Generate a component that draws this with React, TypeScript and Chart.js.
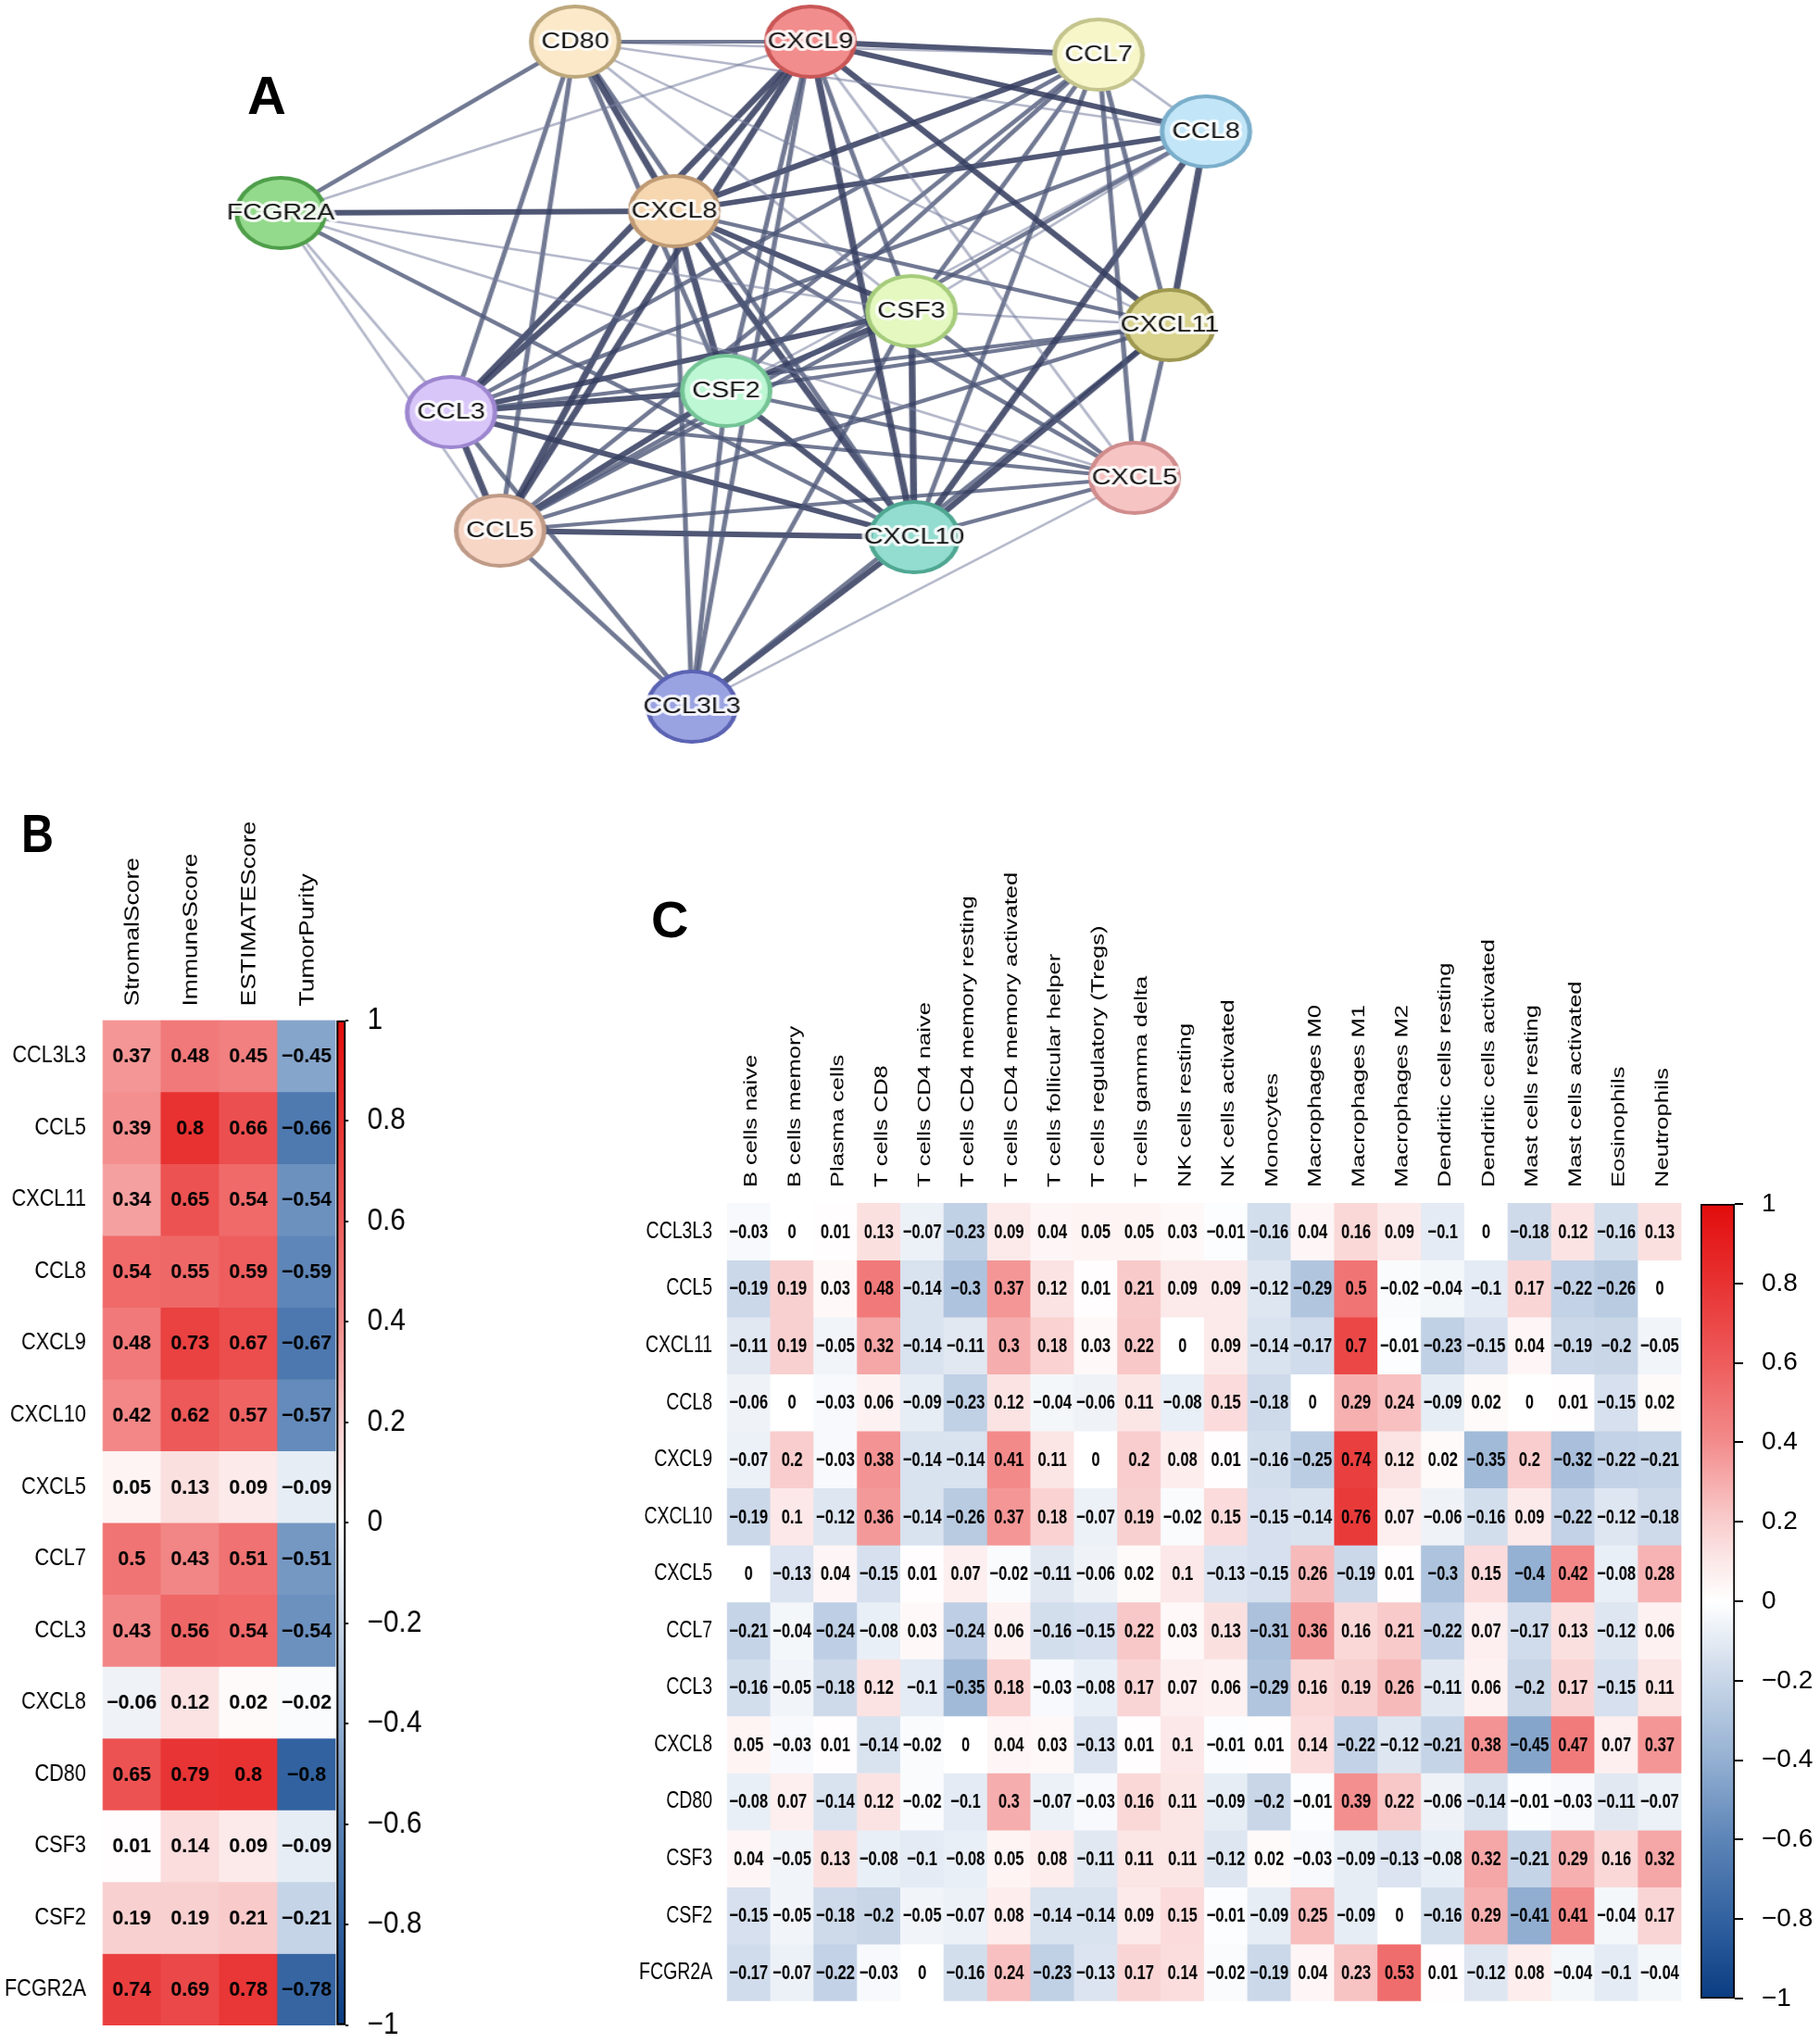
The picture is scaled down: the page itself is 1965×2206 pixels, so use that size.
import React, { useEffect, useRef } from 'react';
import { Chart, registerables } from 'chart.js';

Chart.register(...registerables);

const FONT = '"Liberation Sans", Arial, Helvetica, sans-serif';

/* ---------------- Panel A : interaction network ---------------- */
const networkGenes = ['CD80', 'CXCL9', 'CCL7', 'CCL8', 'FCGR2A', 'CXCL8', 'CSF3', 'CXCL11', 'CSF2', 'CCL3', 'CXCL5', 'CCL5', 'CXCL10', 'CCL3L3'];
const networkLayoutX = [621, 875, 1186, 1302, 303, 728, 984, 1263, 784, 487, 1225, 540, 987, 747];
const networkLayoutY = [45, 45, 59, 142, 230, 228, 336, 351, 422, 445, 516, 573, 580, 763];
// [gene A, gene B, confidence level 1..3]
const networkEdges: [string, string, number][] = [
  ['FCGR2A', 'CD80', 2], ['FCGR2A', 'CXCL9', 1], ['FCGR2A', 'CXCL8', 3], ['FCGR2A', 'CSF3', 1], ['FCGR2A', 'CXCL5', 1], ['FCGR2A', 'CXCL10', 2], ['FCGR2A', 'CCL3', 1], ['FCGR2A', 'CCL5', 1],
  ['CD80', 'CXCL9', 2], ['CD80', 'CXCL8', 3], ['CD80', 'CSF2', 2], ['CD80', 'CXCL10', 2], ['CD80', 'CCL3', 2], ['CD80', 'CCL5', 2], ['CD80', 'CCL8', 1], ['CD80', 'CXCL11', 1], ['CD80', 'CSF3', 1], ['CD80', 'CCL7', 1],
  ['CXCL9', 'CCL7', 3], ['CXCL9', 'CCL8', 3], ['CXCL9', 'CXCL11', 3], ['CXCL9', 'CXCL8', 3], ['CXCL9', 'CCL3', 3], ['CXCL9', 'CCL5', 3], ['CXCL9', 'CSF2', 2], ['CXCL9', 'CXCL10', 3], ['CXCL9', 'CSF3', 2], ['CXCL9', 'CCL3L3', 2], ['CXCL9', 'CXCL5', 1],
  ['CCL7', 'CCL8', 1], ['CCL7', 'CXCL8', 3], ['CCL7', 'CCL3', 2], ['CCL7', 'CSF3', 2], ['CCL7', 'CSF2', 2], ['CCL7', 'CXCL10', 2], ['CCL7', 'CXCL11', 2], ['CCL7', 'CXCL5', 2], ['CCL7', 'CCL5', 2],
  ['CCL8', 'CXCL8', 3], ['CCL8', 'CXCL11', 3], ['CCL8', 'CSF3', 1], ['CCL8', 'CSF2', 1], ['CCL8', 'CXCL10', 3], ['CCL8', 'CCL5', 2], ['CCL8', 'CCL3', 2],
  ['CXCL8', 'CSF3', 3], ['CXCL8', 'CXCL11', 2], ['CXCL8', 'CXCL5', 2], ['CXCL8', 'CSF2', 3], ['CXCL8', 'CCL3', 3], ['CXCL8', 'CCL5', 3], ['CXCL8', 'CXCL10', 3], ['CXCL8', 'CCL3L3', 2],
  ['CSF3', 'CSF2', 3], ['CSF3', 'CCL3', 3], ['CSF3', 'CCL5', 2], ['CSF3', 'CXCL10', 3], ['CSF3', 'CXCL11', 1], ['CSF3', 'CXCL5', 2], ['CSF3', 'CCL3L3', 2],
  ['CXCL11', 'CCL3', 2], ['CXCL11', 'CSF2', 2], ['CXCL11', 'CCL5', 2], ['CXCL11', 'CXCL10', 3], ['CXCL11', 'CXCL5', 2], ['CXCL11', 'CCL3L3', 2],
  ['CSF2', 'CCL3', 3], ['CSF2', 'CCL5', 3], ['CSF2', 'CXCL10', 3], ['CSF2', 'CCL3L3', 2], ['CSF2', 'CXCL5', 2],
  ['CCL3', 'CCL5', 3], ['CCL3', 'CXCL10', 3], ['CCL3', 'CXCL5', 2], ['CCL3', 'CCL3L3', 2],
  ['CXCL5', 'CCL5', 2], ['CXCL5', 'CXCL10', 2], ['CXCL5', 'CCL3L3', 1],
  ['CCL5', 'CXCL10', 3], ['CCL5', 'CCL3L3', 2],
  ['CXCL10', 'CCL3L3', 3],
];

/* ---------------- Panel B : ESTIMATE correlation ---------------- */
const estimateGenes = ['CCL3L3', 'CCL5', 'CXCL11', 'CCL8', 'CXCL9', 'CXCL10', 'CXCL5', 'CCL7', 'CCL3', 'CXCL8', 'CD80', 'CSF3', 'CSF2', 'FCGR2A'];
const estimateScores = ['StromalScore', 'ImmuneScore', 'ESTIMATEScore', 'TumorPurity'];
const estimateCorr = [
  [0.37, 0.48, 0.45, -0.45],
  [0.39, 0.8, 0.66, -0.66],
  [0.34, 0.65, 0.54, -0.54],
  [0.54, 0.55, 0.59, -0.59],
  [0.48, 0.73, 0.67, -0.67],
  [0.42, 0.62, 0.57, -0.57],
  [0.05, 0.13, 0.09, -0.09],
  [0.5, 0.43, 0.51, -0.51],
  [0.43, 0.56, 0.54, -0.54],
  [-0.06, 0.12, 0.02, -0.02],
  [0.65, 0.79, 0.8, -0.8],
  [0.01, 0.14, 0.09, -0.09],
  [0.19, 0.19, 0.21, -0.21],
  [0.74, 0.69, 0.78, -0.78],
];

/* ---------------- Panel C : immune cell correlation ---------------- */
const immuneGenes = ['CCL3L3', 'CCL5', 'CXCL11', 'CCL8', 'CXCL9', 'CXCL10', 'CXCL5', 'CCL7', 'CCL3', 'CXCL8', 'CD80', 'CSF3', 'CSF2', 'FCGR2A'];
const immuneCells = [
  'B cells naive', 'B cells memory', 'Plasma cells', 'T cells CD8', 'T cells CD4 naive', 'T cells CD4 memory resting',
  'T cells CD4 memory activated', 'T cells follicular helper', 'T cells regulatory (Tregs)', 'T cells gamma delta',
  'NK cells resting', 'NK cells activated', 'Monocytes', 'Macrophages M0', 'Macrophages M1', 'Macrophages M2',
  'Dendritic cells resting', 'Dendritic cells activated', 'Mast cells resting', 'Mast cells activated', 'Eosinophils', 'Neutrophils',
];
const immuneCorr = [
  [-0.03, 0, 0.01, 0.13, -0.07, -0.23, 0.09, 0.04, 0.05, 0.05, 0.03, -0.01, -0.16, 0.04, 0.16, 0.09, -0.1, 0, -0.18, 0.12, -0.16, 0.13],
  [-0.19, 0.19, 0.03, 0.48, -0.14, -0.3, 0.37, 0.12, 0.01, 0.21, 0.09, 0.09, -0.12, -0.29, 0.5, -0.02, -0.04, -0.1, 0.17, -0.22, -0.26, 0],
  [-0.11, 0.19, -0.05, 0.32, -0.14, -0.11, 0.3, 0.18, 0.03, 0.22, 0, 0.09, -0.14, -0.17, 0.7, -0.01, -0.23, -0.15, 0.04, -0.19, -0.2, -0.05],
  [-0.06, 0, -0.03, 0.06, -0.09, -0.23, 0.12, -0.04, -0.06, 0.11, -0.08, 0.15, -0.18, 0, 0.29, 0.24, -0.09, 0.02, 0, 0.01, -0.15, 0.02],
  [-0.07, 0.2, -0.03, 0.38, -0.14, -0.14, 0.41, 0.11, 0, 0.2, 0.08, 0.01, -0.16, -0.25, 0.74, 0.12, 0.02, -0.35, 0.2, -0.32, -0.22, -0.21],
  [-0.19, 0.1, -0.12, 0.36, -0.14, -0.26, 0.37, 0.18, -0.07, 0.19, -0.02, 0.15, -0.15, -0.14, 0.76, 0.07, -0.06, -0.16, 0.09, -0.22, -0.12, -0.18],
  [0, -0.13, 0.04, -0.15, 0.01, 0.07, -0.02, -0.11, -0.06, 0.02, 0.1, -0.13, -0.15, 0.26, -0.19, 0.01, -0.3, 0.15, -0.4, 0.42, -0.08, 0.28],
  [-0.21, -0.04, -0.24, -0.08, 0.03, -0.24, 0.06, -0.16, -0.15, 0.22, 0.03, 0.13, -0.31, 0.36, 0.16, 0.21, -0.22, 0.07, -0.17, 0.13, -0.12, 0.06],
  [-0.16, -0.05, -0.18, 0.12, -0.1, -0.35, 0.18, -0.03, -0.08, 0.17, 0.07, 0.06, -0.29, 0.16, 0.19, 0.26, -0.11, 0.06, -0.2, 0.17, -0.15, 0.11],
  [0.05, -0.03, 0.01, -0.14, -0.02, 0, 0.04, 0.03, -0.13, 0.01, 0.1, -0.01, 0.01, 0.14, -0.22, -0.12, -0.21, 0.38, -0.45, 0.47, 0.07, 0.37],
  [-0.08, 0.07, -0.14, 0.12, -0.02, -0.1, 0.3, -0.07, -0.03, 0.16, 0.11, -0.09, -0.2, -0.01, 0.39, 0.22, -0.06, -0.14, -0.01, -0.03, -0.11, -0.07],
  [0.04, -0.05, 0.13, -0.08, -0.1, -0.08, 0.05, 0.08, -0.11, 0.11, 0.11, -0.12, 0.02, -0.03, -0.09, -0.13, -0.08, 0.32, -0.21, 0.29, 0.16, 0.32],
  [-0.15, -0.05, -0.18, -0.2, -0.05, -0.07, 0.08, -0.14, -0.14, 0.09, 0.15, -0.01, -0.09, 0.25, -0.09, 0, -0.16, 0.29, -0.41, 0.41, -0.04, 0.17],
  [-0.17, -0.07, -0.22, -0.03, 0, -0.16, 0.24, -0.23, -0.13, 0.17, 0.14, -0.02, -0.19, 0.04, 0.23, 0.53, 0.01, -0.12, 0.08, -0.04, -0.1, -0.04],
];

/* ---------------- styles ---------------- */
const nodeFill = ['#fbe9c9', '#f28d8d', '#f6f6c9', '#c2e6f8', '#94da8c', '#f6d7b0', '#e4f8c0', '#d9d38e', '#bdf7d4', '#d9c6f9', '#f7c4c4', '#f7d6c6', '#93ddd0', '#9aa3e2'];
const nodeStroke = ['#bda77c', '#c95656', '#c4c48d', '#7aaecb', '#4e9e4a', '#bf9a74', '#a6cc7c', '#9e9850', '#74c496', '#9d86cf', '#d08c8c', '#bf9a86', '#4fa792', '#5b63b3'];
const edgeStyle: Record<number, { w: number; c: string }> = {
  1: { w: 2.5, c: 'rgba(118,126,158,0.55)' },
  2: { w: 4.2, c: 'rgba(78,87,120,0.8)' },
  3: { w: 5.8, c: 'rgba(56,64,98,0.88)' },
};
const CORR_STOPS: [number, number[]][] = [
  [-1, [10, 60, 130]], [-0.8, [50, 98, 160]], [-0.6, [92, 132, 183]], [-0.4, [148, 176, 210]], [-0.2, [200, 214, 232]],
  [0, [255, 255, 255]], [0.1, [252, 232, 232]], [0.2, [249, 205, 205]], [0.4, [243, 140, 140]], [0.6, [238, 92, 92]], [0.8, [232, 50, 50]], [1, [226, 12, 12]],
];

function corrColor(v: number): string {
  for (let i = 0; i < CORR_STOPS.length - 1; i++) {
    const [a, ca] = CORR_STOPS[i];
    const [b, cb] = CORR_STOPS[i + 1];
    if (v >= a && v <= b) {
      const t = (v - a) / (b - a);
      const c = ca.map((x, k) => Math.round(x + (cb[k] - x) * t));
      return `rgb(${c[0]},${c[1]},${c[2]})`;
    }
  }
  return v < 0 ? 'rgb(10,60,130)' : 'rgb(226,12,12)';
}

function fmt(v: number): string {
  const r = Math.round(v * 100) / 100;
  return (r < 0 ? '\u2212' : '') + String(Math.abs(r));
}

const cellTextPlugin = {
  id: 'cellText',
  afterDatasetsDraw(chart: any, _args: any, opts: any) {
    const { ctx } = chart;
    const sx = opts.sx || 1;
    ctx.save();
    ctx.font = opts.font;
    ctx.fillStyle = '#000';
    ctx.textAlign = 'center';
    ctx.textBaseline = 'middle';
    chart.data.datasets.forEach((ds: any, i: number) => {
      const meta = chart.getDatasetMeta(i);
      meta.data.forEach((el: any, j: number) => {
        const p = el.getProps(['x', 'y', 'base'], true);
        ctx.save();
        ctx.translate(p.x, (p.y + p.base) / 2 + 1);
        ctx.scale(sx, 1);
        ctx.fillText(fmt(ds.corr[j]), 0, 0);
        ctx.restore();
      });
    });
    ctx.restore();
  },
};

const nodeLabelPlugin = {
  id: 'nodeLabels',
  afterDatasetsDraw(chart: any) {
    const { ctx } = chart;
    const meta = chart.getDatasetMeta(0);
    ctx.save();
    ctx.font = `23px ${FONT}`;
    ctx.textAlign = 'center';
    ctx.textBaseline = 'middle';
    ctx.lineJoin = 'round';
    meta.data.forEach((el: any, i: number) => {
      const p = el.getProps(['x', 'y'], true);
      ctx.lineWidth = 6;
      ctx.strokeStyle = 'rgba(255,255,255,0.85)';
      ctx.strokeText(networkGenes[i], p.x, p.y + 1);
      ctx.fillStyle = '#111';
      ctx.fillText(networkGenes[i], p.x, p.y + 1);
    });
    ctx.restore();
  },
};

type HeatOpts = {
  rows: string[]; cols: string[]; values: number[][];
  W: number; H: number; left: number; top: number; right: number; bottom: number;
  rowFont: number; colFont: number; cellFont: string; cellSx: number; rowPad: number; colPad: number; colOffset: number;
};

function heatmapConfig(o: HeatOpts): any {
  return {
    type: 'bar',
    data: {
      labels: o.cols,
      datasets: o.rows.map((r, i) => ({
        label: r,
        corr: o.values[i],
        data: o.cols.map(() => [i, i + 1]),
        backgroundColor: o.values[i].map(corrColor),
        borderWidth: 0,
        barPercentage: 1,
        categoryPercentage: 1,
        grouped: false,
      })),
    },
    options: {
      responsive: false,
      animation: false,
      devicePixelRatio: 1,
      events: [],
      layout: { autoPadding: false, padding: { left: 0, top: 0, right: o.W - o.right, bottom: o.H - o.bottom } },
      plugins: { legend: { display: false }, tooltip: { enabled: false }, cellText: { font: o.cellFont, sx: o.cellSx } },
      scales: {
        x: {
          type: 'category',
          position: 'top',
          offset: true,
          grid: { display: false, drawTicks: false },
          border: { display: false },
          ticks: {
            autoSkip: false, minRotation: 90, maxRotation: 90, padding: o.colPad, labelOffset: o.colOffset,
            color: '#000', font: { family: FONT, size: o.colFont },
          },
          afterFit: (s: any) => { s.height = o.top; s.paddingLeft = 0; s.paddingRight = 0; },
        },
        y: {
          type: 'linear',
          min: 0,
          max: o.rows.length,
          reverse: true,
          grid: { display: false, drawTicks: false },
          border: { display: false },
          afterBuildTicks: (s: any) => { s.ticks = o.rows.map((_, i) => ({ value: i + 0.5 })); },
          ticks: {
            autoSkip: false, padding: o.rowPad, color: '#000', font: { family: FONT, size: o.rowFont },
            callback: (_v: any, i: number) => o.rows[i],
          },
          afterFit: (s: any) => { s.width = o.left; s.paddingTop = 0; s.paddingBottom = 0; },
        },
      },
    },
    plugins: [cellTextPlugin],
  };
}

type BarOpts = { W: number; H: number; left: number; top: number; right: number; bottom: number; tickLen: number; tickPad: number; font: number; border: number; tickWidth: number };

function colorbarConfig(o: BarOpts): any {
  return {
    type: 'bar',
    data: {
      labels: [''],
      datasets: [{
        data: [[-1, 1]],
        backgroundColor: (c: any) => {
          const area = c.chart.chartArea;
          if (!area) return '#fff';
          const g = c.chart.ctx.createLinearGradient(0, area.bottom, 0, area.top);
          CORR_STOPS.forEach(([v]) => g.addColorStop((v + 1) / 2, corrColor(v)));
          return g;
        },
        borderColor: '#000',
        borderWidth: o.border,
        borderSkipped: false,
        barPercentage: 1,
        categoryPercentage: 1,
      }],
    },
    options: {
      responsive: false,
      animation: false,
      devicePixelRatio: 1,
      events: [],
      layout: { autoPadding: false, padding: { left: o.left, top: o.top, right: 0, bottom: o.H - o.bottom } },
      plugins: { legend: { display: false }, tooltip: { enabled: false } },
      scales: {
        x: { display: false, offset: true },
        y: {
          position: 'right',
          min: -1,
          max: 1,
          grid: { drawOnChartArea: false, drawTicks: true, tickLength: o.tickLen, color: '#000', lineWidth: o.tickWidth },
          border: { display: false },
          ticks: {
            stepSize: 0.2, padding: o.tickPad, color: '#000', font: { family: FONT, size: o.font },
            callback: (v: number) => fmt(Math.round(v * 10) / 10),
          },
          afterFit: (s: any) => { s.width = o.W - o.right; s.paddingTop = 0; s.paddingBottom = 0; },
        },
      },
    },
  };
}

function networkConfig(H: number): any {
  const idx = (g: string) => networkGenes.indexOf(g);
  return {
    type: 'scatter',
    data: {
      datasets: [
        {
          data: networkGenes.map((_, i) => ({ x: networkLayoutX[i], y: networkLayoutY[i] })),
          pointRadius: 38,
          pointHoverRadius: 38,
          pointBackgroundColor: nodeFill,
          pointBorderColor: nodeStroke,
          pointBorderWidth: 4,
        },
        ...networkEdges.map(([a, b, lvl]) => ({
          data: [
            { x: networkLayoutX[idx(a)], y: networkLayoutY[idx(a)] },
            { x: networkLayoutX[idx(b)], y: networkLayoutY[idx(b)] },
          ],
          showLine: true,
          pointRadius: 0,
          borderColor: edgeStyle[lvl].c,
          borderWidth: edgeStyle[lvl].w,
        })),
      ],
    },
    options: {
      responsive: false,
      animation: false,
      devicePixelRatio: 1,
      events: [],
      layout: { autoPadding: false, padding: 0 },
      plugins: { legend: { display: false }, tooltip: { enabled: false } },
      scales: {
        x: { type: 'linear', min: 0, max: 1965, display: false },
        y: { type: 'linear', min: 0, max: H, reverse: true, display: false },
      },
    },
    plugins: [nodeLabelPlugin],
  };
}

// canvas geometry: internal size (W,H) and displayed box
const GEO = {
  A: { W: 1572, H: 850, left: 0, top: 0, dispW: 1965 },
  B: { W: 435, H: 1346, left: 0, top: 860, dispW: 369.75 },
  BC: { W: 146, H: 1146, left: 340, top: 1060, dispW: 129.94 },
  C: { W: 1560, H: 1290, left: 660, top: 900, dispW: 1170 },
  CC: { W: 145, H: 920, left: 1820, top: 1270, dispW: 145 },
};

export default function App() {
  const refA = useRef<HTMLCanvasElement>(null);
  const refB = useRef<HTMLCanvasElement>(null);
  const refBC = useRef<HTMLCanvasElement>(null);
  const refC = useRef<HTMLCanvasElement>(null);
  const refCC = useRef<HTMLCanvasElement>(null);

  useEffect(() => {
    const charts: Chart[] = [];
    charts.push(new Chart(refA.current!, networkConfig(GEO.A.H)));
    charts.push(new Chart(refB.current!, heatmapConfig({
      rows: estimateGenes, cols: estimateScores, values: estimateCorr,
      W: GEO.B.W, H: GEO.B.H, left: 130.2, top: 241.5, right: 426.2, bottom: 1327,
      rowFont: 25.5, colFont: 26.5, cellFont: `bold 22px ${FONT}`, cellSx: 1.14, rowPad: 21, colPad: 15, colOffset: 33,
    })));
    charts.push(new Chart(refBC.current!, colorbarConfig({
      W: GEO.BC.W, H: GEO.BC.H, left: 26.2, top: 41.7, right: 37.4, bottom: 1126.7,
      tickLen: 3, tickPad: 23, font: 33.5, border: 2.5, tickWidth: 2,
    })));
    charts.push(new Chart(refC.current!, heatmapConfig({
      rows: immuneGenes, cols: immuneCells, values: immuneCorr,
      W: GEO.C.W, H: GEO.C.H, left: 166.5, top: 399, right: 1540.5, bottom: 1260.7,
      rowFont: 26, colFont: 25.5, cellFont: `bold 22px ${FONT}`, cellSx: 1, rowPad: 21, colPad: 17, colOffset: 35,
    })));
    charts.push(new Chart(refCC.current!, colorbarConfig({
      W: GEO.CC.W, H: GEO.CC.H, left: 16, top: 30, right: 53, bottom: 888,
      tickLen: 9, tickPad: 20, font: 28, border: 2, tickWidth: 2,
    })));
    return () => charts.forEach((c) => c.destroy());
  }, []);

  const cv = (g: { W: number; H: number; left: number; top: number; dispW: number }, ref: any) => (
    <canvas
      ref={ref}
      width={g.W}
      height={g.H}
      style={{ position: 'absolute', left: g.left, top: g.top, width: g.dispW, height: g.H }}
    />
  );

  const panelLabel: React.CSSProperties = {
    position: 'absolute', fontFamily: FONT, fontWeight: 'bold', lineHeight: 1, color: '#000', margin: 0,
  };

  return (
    <div style={{ position: 'absolute', left: 0, top: 0, width: 1965, height: 2206, background: '#fff', overflow: 'hidden' }}>
      {cv(GEO.A, refA)}
      {cv(GEO.B, refB)}
      {cv(GEO.BC, refBC)}
      {cv(GEO.C, refC)}
      {cv(GEO.CC, refCC)}
      <div style={{ ...panelLabel, left: 267, top: 74, fontSize: 58 }}>A</div>
      <div style={{ ...panelLabel, left: 23, top: 872, fontSize: 57, transform: 'scaleX(0.85)', transformOrigin: 'left top' }}>B</div>
      <div style={{ ...panelLabel, left: 703, top: 965, fontSize: 56 }}>C</div>
    </div>
  );
}
